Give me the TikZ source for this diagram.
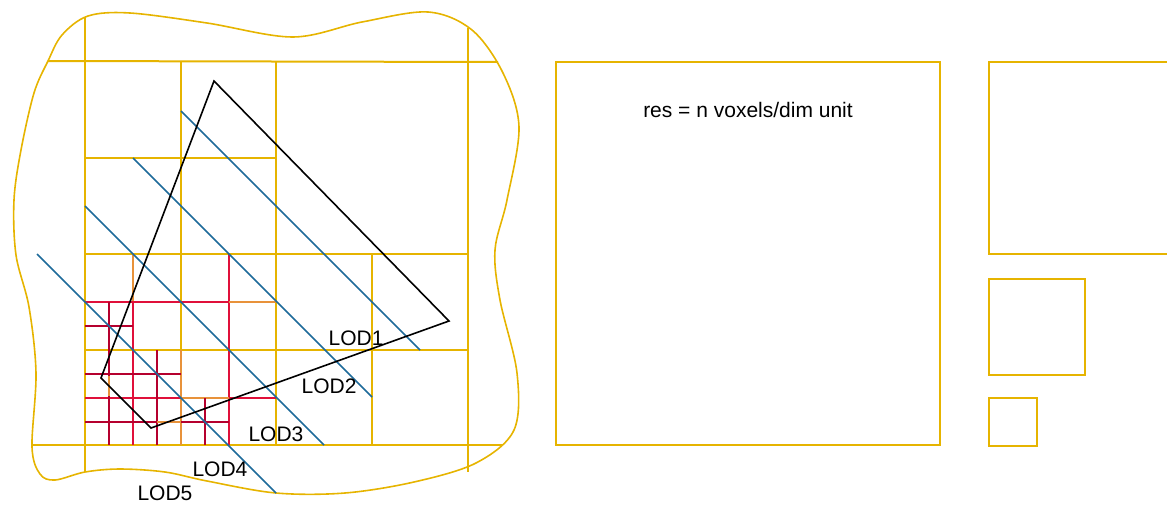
\documentclass[tikz,border=0pt]{standalone}
\usepackage{fontspec}
\setmainfont{Liberation Sans}
\definecolor{gold}{HTML}{E6B400}
\definecolor{lodred}{HTML}{E0103A}
\definecolor{loddark}{HTML}{B5002E}
\definecolor{lodorange}{HTML}{E8923A}
\definecolor{lodblue}{HTML}{1E6A9A}
\begin{document}
\begin{tikzpicture}[x=1pt,y=-1pt,
  gridline/.style={draw=gold,line width=2pt},
  blobline/.style={draw=gold,line width=1.6pt},
  medline/.style={draw=lodred,line width=2pt},
  fineline/.style={draw=loddark,line width=2pt},
  orline/.style={draw=lodorange,line width=2pt},
  lodline/.style={draw=lodblue,line width=1.6pt},
  shapeline/.style={draw=black,line width=1.6pt,line join=miter},
  lab/.style={inner sep=0pt,font=\fontsize{21}{25}\selectfont}]
\useasboundingbox (0,0) rectangle (1167,504);
% blob outline
\draw[blobline] plot[smooth cycle, tension=0.55] coordinates {
 (48,61) (62,35) (88,16) (130,13) (207,23) (293,37) (362,22) (428,12) (472,30)
 (503,73) (519,127) (507,200) (495,250) (500,300) (517,373) (514,430)
 (476,463) (414,482) (345,493) (276,493) (207,481) (165,472) (120,469) (85,472)
 (55,480) (40,474) (32,447) (36,373) (29,307) (16,255) (14,200) (21,150) (34,93)};
% main grid
\draw[gridline] (48,61) -- (498,62);
\draw[gridline] (31,445) -- (503,445);
\draw[gridline] (85,17) -- (85,472);
\draw[gridline] (468,28) -- (468,472);
\draw[gridline] (85,254) -- (468,254);
\draw[gridline] (85,350) -- (468,350);
\draw[gridline] (85,158) -- (276,158);
\draw[gridline] (181,62) -- (181,350);
\draw[gridline] (276,62) -- (276,445);
\draw[gridline] (372,254) -- (372,445);
\draw[orline] (181,350) -- (181,445);
% medium level
\draw[orline] (133,254) -- (133,302);
\draw[medline] (133,302) -- (133,445);
\draw[medline] (229,254) -- (229,445);
\draw[medline] (85,302) -- (229,302);
\draw[orline] (229,302) -- (276,302);
\draw[medline] (85,398) -- (181,398);
\draw[orline] (181,398) -- (229,398);
\draw[medline] (229,398) -- (276,398);
% fine level
\draw[fineline] (109,302) -- (109,376);
\draw[orline] (109,376) -- (109,396);
\draw[fineline] (109,396) -- (109,445);
\draw[fineline] (85,326) -- (133,326);
\draw[fineline] (157,350) -- (157,445);
\draw[fineline] (85,374) -- (181,374);
\draw[fineline] (85,422) -- (157,422);
\draw[orline] (157,422) -- (181,422);
\draw[fineline] (181,422) -- (229,422);
\draw[fineline] (205,398) -- (205,445);
% LOD lines
\draw[lodline] (181,111) -- (420,350);
\draw[lodline] (133,158) -- (372,397);
\draw[lodline] (85,206) -- (324,445);
\draw[lodline] (37,254) -- (276,493);
% object
\draw[shapeline] (214,81) -- (449,321) -- (151,428) -- (101,378) -- cycle;
% labels
\node[lab] (l1) at (356,338) {LOD1};
\node[lab] (l2) at (329,386) {LOD2};
\node[lab] (l3) at (276,434) {LOD3};
\node[lab] (l4) at (220,469) {LOD4};
\node[lab] (l5) at (165,493.5) {LOD5};
% right boxes
\draw[gridline] (556,62) rectangle (940,445);
\node[lab] (res) at (748,110) {res = n voxels/dim unit};
\draw[gridline] (1172,62) -- (989,62) -- (989,254) -- (1172,254);
\draw[gridline] (989,279) rectangle (1085,375);
\draw[gridline] (989,398) rectangle (1037,446);
\end{tikzpicture}
\end{document}
